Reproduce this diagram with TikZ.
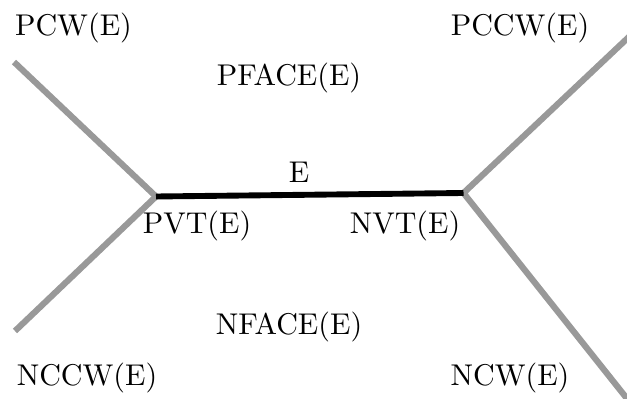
\documentclass[tikz,border=0pt]{standalone}
\begin{document}
\begin{tikzpicture}[x=0.34pt,y=-0.34pt,
  wing/.style={draw=black!40,line width=2.1pt},
  edgeline/.style={draw=black,line width=2pt},
  lbl/.style={inner sep=0pt,font=\fontsize{10.2}{12}\selectfont}]
\useasboundingbox (0,0) rectangle (627,399);
\clip (0,0) rectangle (627,399);
% vertices and wing ends
\coordinate (pvt) at (156,196.5);
\coordinate (nvt) at (463.5,193);
\coordinate (pcw) at (14,62);
\coordinate (nccw) at (15,331);
\coordinate (pccw) at (650,17);
\coordinate (ncw) at (640,415);
% wings
\draw[wing] (pcw) -- (pvt) -- (nccw);
\draw[wing] (pccw) -- (nvt) -- (ncw);
% the edge
\draw[edgeline] (pvt) -- (nvt);
% labels
\node[lbl] (lpcw) at (73.5,28) {PCW(E)};
\node[lbl] (lpccw) at (520,28) {PCCW(E)};
\node[lbl] (lpface) at (289,78) {PFACE(E)};
\node[lbl] (le) at (299,172) {E};
\node[lbl] (lpvt) at (197,226) {PVT(E)};
\node[lbl] (lnvt) at (405,226) {NVT(E)};
\node[lbl] (lnface) at (289,327) {NFACE(E)};
\node[lbl] (lnccw) at (87,378) {NCCW(E)};
\node[lbl] (lncw) at (510,378) {NCW(E)};
\end{tikzpicture}
\end{document}
